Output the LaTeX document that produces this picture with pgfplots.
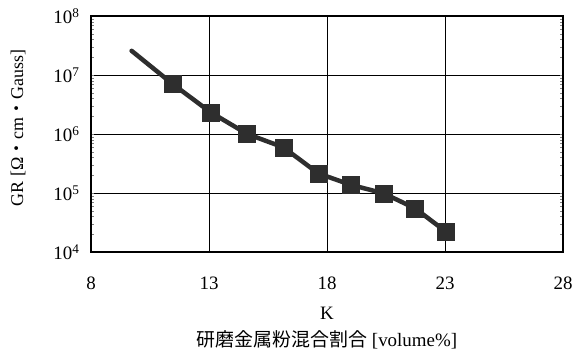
\documentclass[border=0pt]{standalone}
\usepackage{pgfplots}
\pgfplotsset{compat=1.18}
\usepackage{fontspec}
\setmainfont{Liberation Serif}
\newfontfamily\cjk{Noto Sans CJK JP}

\definecolor{ink}{HTML}{2E2E2E}

\begin{document}
\begin{tikzpicture}[x=1bp,y=1bp]
\path[use as bounding box] (-91,-99) rectangle (481,252);
\begin{axis}[
  at={(0,0)}, anchor=south west,
  scale only axis, width=472bp, height=236bp,
  ymode=log,
  xmin=8, xmax=28, ymin=1e4, ymax=1e8,
  xtick={8,13,18,23,28},
  ytick={1e4,1e5,1e6,1e7,1e8},
  yticklabels={10\textsuperscript{4},10\textsuperscript{5},10\textsuperscript{6},10\textsuperscript{7},10\textsuperscript{8}},
  minor ytick={}, yminorgrids=false,
  major tick length=0pt,
  grid=major,
  major grid style={black, line width=0.8bp},
  axis line style={black, line width=2.2bp},
  /pgf/number format/assume math mode=true,
  tick label style={font=\fontsize{19}{22}\selectfont},
  xticklabel style={yshift=-21bp},
  yticklabel style={xshift=-8bp},
  clip=false,
]
% fitted trend
\addplot[ink, line width=4.5bp, line cap=round] coordinates {
  (9.72,2.57e7) (11.46,7.03e6) (13.07,2.33e6) (14.62,1.0e6) (16.15,5.95e5)
  (17.63,2.15e5) (19.02,1.37e5) (20.39,9.9e4) (21.73,5.5e4) (23.04,2.21e4)
};
% measured samples
\addplot[only marks, mark=square*, mark size=8.5bp, mark options={fill=ink, draw=ink, line width=0.5bp}] coordinates {
  (11.46,7.03e6) (13.07,2.33e6) (14.62,1.0e6) (16.15,5.95e5)
  (17.63,2.15e5) (19.02,1.37e5) (20.39,9.9e4) (21.73,5.5e4) (23.04,2.21e4)
};
\end{axis}
\node at (236,-61) {\fontsize{19}{22}\selectfont K};
\node at (236,-88) {\fontsize{19}{22}\selectfont{\cjk 研磨金属粉混合割合} [volume\%]};
\node[rotate=90] at (-73,124) {\fontsize{18}{21}\selectfont GR [Ω{\cjk ・}cm{\cjk ・}Gauss]};
\end{tikzpicture}
\end{document}
